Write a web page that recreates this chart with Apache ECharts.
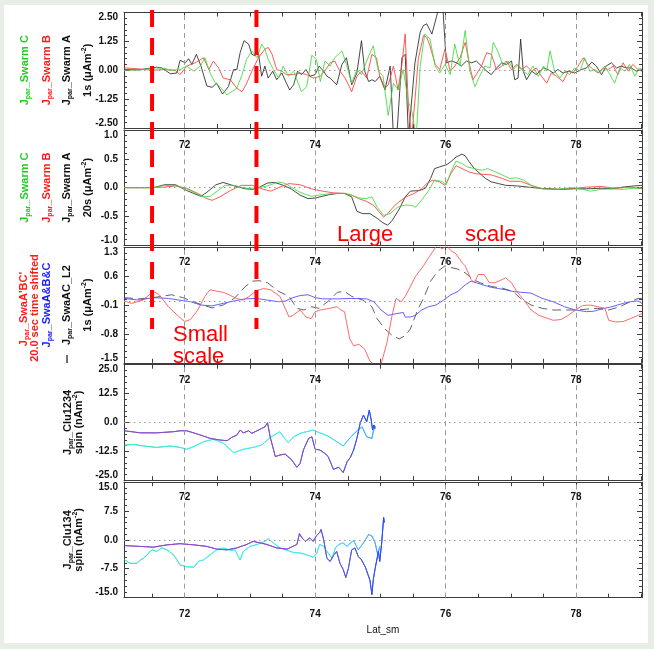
<!DOCTYPE html>
<html>
<head>
<meta charset="utf-8">
<script src="https://cdn.jsdelivr.net/npm/echarts@6/dist/echarts.min.js"></script>
<style>
  html, body { margin: 0; padding: 0; background: #e6eee6; }
  #sheet { position: absolute; left: 4px; top: 5px; width: 644px; height: 638px; background: #ffffff; }
  #chart { position: absolute; left: 0; top: 0; width: 654px; height: 649px; }
</style>
</head>
<body>
<div id="sheet"></div>
<div id="chart"></div>
<script>
// ---- magnetic latitude axis ----
const LAT_MIN = 71.07;
const LAT_MAX = 79.01;
const LAT_LABELS = [72, 74, 76, 78];
const LAT_TICKS = [71.5, 72, 72.5, 73, 73.5, 74, 74.5, 75, 75.5, 76, 76.5, 77, 77.5, 78, 78.5, 79];

// ---- vertical scales of the five panels ----
const Y_MIN = [-2.5, -1.0, -1.5, -25, -15];
const Y_MAX = [2.5, 1.0, 1.3, 25, 15];
const Y_STEP = [1.25, 0.5, 0.7, 12.5, 7.5];
const Y_DECIMALS = [2, 1, 1, 1, 1];

// ---- small / large scale boundaries (latitude) ----
const BOUNDARY_LATS = [71.5, 73.1];

// ---- panel 1: Swarm 1 s field-aligned currents (uA/m^2) ----
const SWARM_A_1S = [
  [71.07,0.03],[71.30,0.02],[71.57,0.13],[71.65,0.10],[71.78,-0.15],[71.88,-0.12],[71.93,0.43],[72.01,0.32],
  [72.06,0.50],[72.11,0.25],[72.18,0.69],[72.25,0.18],[72.34,-0.68],[72.42,-0.74],[72.49,-0.56],[72.58,-1.03],
  [72.67,-0.71],[72.75,0.03],[72.80,0.03],[72.85,0.76],[72.91,1.28],[72.98,1.13],[73.03,0.69],[73.08,0.62],
  [73.13,0.76],[73.18,-0.26],[73.23,0.18],[73.28,-0.34],[73.35,-0.04],[73.41,-0.41],[73.49,-0.12],[73.56,-0.56],
  [73.61,-0.85],[73.67,-0.63],[73.73,-0.04],[73.79,-0.19],[73.86,0.03],[73.92,-0.26],[74.00,-0.19],[74.06,0.18],
  [74.13,-0.04],[74.18,-0.26],[74.23,-0.34],[74.33,-0.63],[74.41,0.25],[74.48,0.54],[74.56,-0.63],[74.64,-0.12],
  [74.71,1.28],[74.76,-0.04],[74.82,-0.49],[74.87,-0.41],[74.92,-0.49],[74.99,-0.26],[75.07,-0.85],[75.15,0.18],
  [75.20,-2.9],[75.25,-2.9],[75.33,0.54],[75.38,0.69],[75.43,-2.9],[75.53,0.32],[75.61,1.65],[75.66,1.94],
  [75.71,2.01],[75.79,1.57],[75.86,2.31],[75.91,2.9],[75.96,2.6],[76.01,0.32],[76.09,0.40],[76.17,0.32],
  [76.24,0.18],[76.32,0.40],[76.40,0.32],[76.47,0.40],[76.55,0.18],[76.63,-0.04],[76.70,-0.19],[76.78,0.10],
  [76.86,0.32],[76.93,0.25],[77.01,0.40],[77.06,-0.41],[77.11,-0.34],[77.15,1.35],[77.19,-0.04],[77.24,-0.41],
  [77.32,-0.04],[77.39,-0.19],[77.50,0.10],[77.57,0.03],[77.65,-0.12],[77.72,0.03],[77.80,-0.12],[77.88,-0.04],
  [77.98,-0.12],[78.08,0.03],[78.16,0.10],[78.24,0.35],[78.31,0.18],[78.39,-0.19],[78.46,0.18],[78.54,0.32],
  [78.62,0.10],[78.69,0.18],[78.77,0.10],[78.85,0.10],[78.92,-0.04],[79.01,0.03]
];
const SWARM_B_1S = [
  [71.07,0.10],[71.20,0.08],[71.30,0.06],[71.50,0.0],[71.70,0.03],[71.85,0.0],[71.93,-0.19],[72.03,0.18],
  [72.16,0.32],[72.29,0.54],[72.37,0.03],[72.44,0.40],[72.52,0.10],[72.59,-0.34],[72.70,-0.41],[72.80,-0.78],
  [72.88,-0.93],[72.95,-0.56],[73.03,-0.04],[73.13,0.54],[73.23,0.91],[73.28,0.99],[73.34,0.69],[73.41,0.03],
  [73.49,-0.04],[73.56,-0.19],[73.67,-0.19],[73.77,-0.12],[73.87,-0.19],[73.97,-0.34],[74.08,-0.26],[74.18,0.10],
  [74.23,0.32],[74.30,0.40],[74.38,-0.04],[74.46,-0.34],[74.56,-0.93],[74.64,-0.26],[74.71,-0.04],[74.79,-0.34],
  [74.87,0.69],[74.94,0.54],[74.99,-0.26],[75.07,-0.78],[75.12,-0.63],[75.20,0.18],[75.27,-0.85],[75.33,0.25],
  [75.38,1.57],[75.43,-1.59],[75.48,-2.9],[75.53,-1.29],[75.58,0.47],[75.66,1.50],[75.71,1.43],[75.76,1.06],
  [75.84,0.25],[75.91,0.03],[75.99,0.91],[76.07,-0.04],[76.14,0.18],[76.22,0.54],[76.30,1.21],[76.37,0.18],
  [76.42,-0.41],[76.50,-0.04],[76.55,0.18],[76.63,0.76],[76.70,0.69],[76.78,0.03],[76.86,0.18],[76.93,0.40],
  [77.01,0.03],[77.09,0.25],[77.16,0.03],[77.24,0.18],[77.32,-0.04],[77.39,0.10],[77.47,-0.26],[77.55,-0.56],
  [77.62,-0.12],[77.70,-0.26],[77.80,-0.49],[77.88,-0.04],[77.95,-0.12],[78.03,0.18],[78.11,0.54],[78.18,0.25],
  [78.26,0.03],[78.34,-0.12],[78.41,0.10],[78.49,0.03],[78.57,0.18],[78.64,-0.19],[78.72,0.32],[78.80,-0.04],
  [78.87,0.25],[78.95,0.03],[79.01,-0.04]
];
const SWARM_C_1S = [
  [71.07,0.0],[71.30,0.01],[71.57,0.10],[71.70,0.08],[71.78,0.0],[71.93,0.03],[72.03,0.18],[72.14,-0.04],
  [72.24,0.18],[72.31,0.54],[72.39,-0.12],[72.47,-0.56],[72.54,-0.71],[72.65,-1.07],[72.72,-0.93],[72.80,-0.78],
  [72.88,-0.19],[72.95,0.47],[73.03,0.84],[73.11,0.54],[73.18,1.13],[73.23,0.91],[73.28,0.47],[73.36,0.03],
  [73.44,-0.34],[73.51,0.18],[73.59,-0.26],[73.67,-0.04],[73.74,-0.56],[73.79,-0.93],[73.87,-0.71],[73.95,0.65],
  [74.02,0.47],[74.08,-0.49],[74.15,0.40],[74.23,0.18],[74.30,0.54],[74.41,0.84],[74.48,0.25],[74.56,-0.56],
  [74.64,0.03],[74.71,-0.19],[74.79,0.40],[74.89,1.06],[74.97,-0.04],[75.04,-0.26],[75.12,-1.96],[75.20,-0.56],
  [75.27,-0.85],[75.35,0.03],[75.43,-1.37],[75.48,-1.74],[75.55,-2.9],[75.61,0.18],[75.68,1.57],[75.76,1.35],
  [75.84,0.18],[75.91,-0.12],[75.99,0.25],[76.07,-0.19],[76.14,1.13],[76.22,0.18],[76.30,1.72],[76.37,-0.04],
  [76.45,-0.71],[76.52,-0.26],[76.60,0.18],[76.68,0.10],[76.73,1.21],[76.81,0.76],[76.88,0.18],[76.96,0.40],
  [77.04,0.03],[77.11,0.25],[77.19,-0.04],[77.26,-0.19],[77.34,0.18],[77.42,-0.26],[77.50,0.18],[77.55,-0.04],
  [77.60,0.84],[77.67,-0.04],[77.75,-0.34],[77.83,-0.04],[77.90,-0.19],[77.98,0.10],[78.06,-0.04],[78.13,0.54],
  [78.21,-0.04],[78.29,0.03],[78.36,-0.12],[78.44,0.18],[78.52,-0.19],[78.59,-0.56],[78.67,0.10],[78.75,-0.04],
  [78.82,0.25],[78.90,-0.26],[78.97,0.10],[79.01,0.03]
];

// ---- panel 2: Swarm 20 s smoothed currents (uA/m^2) ----
const SWARM_A_20S = [
  [71.07,0],[71.52,0],[71.69,0.05],[71.86,0.05],[72.03,-0.05],[72.14,-0.10],[72.25,-0.15],[72.34,-0.08],
  [72.48,0.05],[72.59,0.09],[72.76,0.03],[72.93,-0.02],[73.04,-0.03],[73.15,0.01],[73.27,0.08],[73.38,0.09],
  [73.49,0.05],[73.63,-0.02],[73.77,-0.13],[73.89,-0.19],[74.00,-0.18],[74.11,-0.15],[74.22,-0.12],[74.34,-0.10],
  [74.45,-0.10],[74.56,-0.16],[74.64,-0.41],[74.73,-0.45],[74.84,-0.45],[74.95,-0.53],[75.04,-0.61],[75.11,-0.65],
  [75.18,-0.57],[75.29,-0.37],[75.38,-0.16],[75.46,-0.06],[75.60,-0.05],[75.69,-0.01],[75.77,0.16],[75.83,0.33],
  [75.91,0.36],[76.02,0.40],[76.08,0.45],[76.16,0.53],[76.25,0.58],[76.30,0.55],[76.36,0.45],[76.44,0.33],
  [76.53,0.24],[76.61,0.16],[76.70,0.10],[76.81,0.07],[76.92,0.04],[77.09,0.03],[77.26,0.01],[77.43,-0.01],
  [77.60,-0.02],[77.77,-0.03],[77.94,-0.02],[78.16,-0.02],[78.38,-0.01],[78.55,-0.02],[78.72,0.01],[78.89,0.03],
  [79.01,0.04]
];
const SWARM_B_20S = [
  [71.07,0],[71.52,0],[71.69,0.01],[71.86,0.03],[72.03,-0.01],[72.20,-0.10],[72.34,-0.19],[72.42,-0.22],
  [72.54,-0.16],[72.70,-0.05],[72.87,0.04],[73.04,0.04],[73.21,-0.03],[73.32,-0.06],[73.46,0.01],[73.60,0.07],
  [73.77,0.05],[73.94,-0.02],[74.11,-0.06],[74.28,-0.09],[74.45,-0.10],[74.56,-0.13],[74.67,-0.19],[74.79,-0.24],
  [74.90,-0.31],[74.98,-0.42],[75.05,-0.51],[75.12,-0.44],[75.21,-0.32],[75.29,-0.24],[75.41,-0.15],[75.52,-0.10],
  [75.63,-0.02],[75.71,0.07],[75.80,0.13],[75.91,0.10],[75.99,0.04],[76.08,0.24],[76.16,0.38],[76.25,0.33],
  [76.36,0.27],[76.47,0.24],[76.59,0.23],[76.70,0.22],[76.87,0.16],[76.98,0.11],[77.15,0.11],[77.31,0.04],
  [77.48,-0.02],[77.71,-0.03],[77.94,-0.02],[78.16,0.01],[78.38,0.02],[78.61,-0.01],[78.83,0.01],[79.01,-0.02]
];
const SWARM_C_20S = [
  [71.07,0],[71.52,0],[71.69,0.04],[71.86,0.03],[72.03,-0.02],[72.14,-0.08],[72.28,-0.16],[72.39,-0.15],
  [72.51,-0.05],[72.62,0.04],[72.76,0.04],[72.93,-0.01],[73.10,-0.01],[73.27,0.03],[73.44,0.10],[73.55,0.07],
  [73.66,-0.01],[73.77,-0.08],[73.94,-0.15],[74.11,-0.12],[74.28,-0.10],[74.45,-0.10],[74.56,-0.13],[74.67,-0.18],
  [74.79,-0.19],[74.87,-0.16],[74.95,-0.34],[75.05,-0.48],[75.15,-0.45],[75.26,-0.34],[75.38,-0.30],[75.49,-0.31],
  [75.54,-0.34],[75.63,-0.22],[75.74,-0.05],[75.83,0.13],[75.94,0.11],[76.01,0.05],[76.08,0.27],[76.16,0.46],
  [76.25,0.42],[76.33,0.36],[76.44,0.33],[76.56,0.30],[76.64,0.33],[76.75,0.28],[76.87,0.22],[76.98,0.16],
  [77.09,0.17],[77.20,0.13],[77.31,0.04],[77.48,-0.02],[77.71,-0.03],[77.94,0.0],[78.10,-0.03],[78.22,-0.06],
  [78.38,-0.03],[78.55,-0.02],[78.72,-0.03],[78.89,-0.01],[79.01,-0.01]
];

// ---- panel 3: multi-spacecraft estimates, 1 s (uA/m^2) ----
const SWA_ABC_SHIFTED = [
  [71.07,0.0],[71.19,-0.06],[71.36,0.02],[71.52,0.23],[71.61,0.15],[71.75,-0.14],[71.89,-0.35],[72.00,-0.50],
  [72.09,-0.45],[72.20,-0.22],[72.31,0.11],[72.39,0.27],[72.51,0.23],[72.59,0.21],[72.68,0.15],[72.79,0.06],
  [72.90,0.02],[72.99,0.11],[73.10,0.25],[73.21,0.30],[73.32,0.27],[73.46,0.11],[73.60,-0.39],[73.66,-0.35],
  [73.77,-0.22],[73.86,-0.39],[73.94,-0.43],[74.00,-0.26],[74.08,-0.22],[74.22,-0.18],[74.34,-0.14],[74.39,-0.22],
  [74.45,-0.26],[74.53,-0.92],[74.59,-1.09],[74.67,-1.05],[74.76,-1.17],[74.84,-1.46],[74.93,-1.58],[75.01,-1.54],
  [75.10,-1.01],[75.18,-0.35],[75.24,0.06],[75.32,-0.02],[75.38,0.11],[75.46,0.35],[75.54,0.60],[75.66,0.85],
  [75.74,1.05],[75.83,1.26],[75.88,1.38],[75.94,1.26],[76.02,1.34],[76.08,1.22],[76.16,1.14],[76.25,0.93],
  [76.30,0.85],[76.39,0.52],[76.44,0.44],[76.50,0.64],[76.59,0.64],[76.67,0.44],[76.75,0.44],[76.87,0.52],
  [76.92,0.56],[77.01,0.44],[77.09,0.23],[77.20,0.02],[77.31,-0.22],[77.43,-0.35],[77.54,-0.41],[77.65,-0.47],
  [77.77,-0.45],[77.88,-0.35],[77.99,-0.22],[78.10,-0.11],[78.22,-0.10],[78.33,-0.14],[78.44,-0.18],[78.50,-0.47],
  [78.61,-0.51],[78.72,-0.50],[78.83,-0.43],[78.95,-0.35],[79.01,-0.31]
];
const SWA_A_B_C = [
  [71.07,0.06],[71.30,0.02],[71.52,0.08],[71.75,0.06],[71.92,0.02],[72.09,-0.02],[72.25,-0.10],[72.42,-0.12],
  [72.59,-0.06],[72.76,0.0],[72.93,0.05],[73.10,0.06],[73.27,0.02],[73.44,-0.02],[73.55,0.0],[73.66,0.08],
  [73.77,0.13],[73.89,0.15],[74.00,0.08],[74.11,0.05],[74.34,0.05],[74.56,0.06],[74.79,0.05],[74.90,-0.02],
  [75.01,-0.22],[75.12,-0.35],[75.24,-0.31],[75.35,-0.28],[75.38,-0.39],[75.46,-0.39],[75.54,-0.35],[75.63,-0.22],
  [75.74,-0.14],[75.85,-0.10],[75.97,0.02],[76.08,0.15],[76.19,0.23],[76.30,0.39],[76.39,0.48],[76.47,0.44],
  [76.59,0.38],[76.70,0.33],[76.81,0.30],[76.92,0.27],[77.03,0.23],[77.15,0.21],[77.31,0.19],[77.48,0.06],
  [77.65,-0.02],[77.82,-0.14],[77.99,-0.22],[78.16,-0.26],[78.27,-0.25],[78.38,-0.20],[78.55,-0.14],[78.72,-0.06],
  [78.83,-0.02],[78.95,0.0],[79.01,-0.06]
];
const SWA_AC_L2 = [
  [71.07,0.08],[71.30,0.05],[71.52,0.08],[71.80,0.15],[71.97,0.08],[72.20,-0.06],[72.42,-0.17],[72.59,-0.10],
  [72.76,0.06],[72.93,0.35],[73.04,0.48],[73.15,0.49],[73.27,0.44],[73.44,0.23],[73.60,0.11],[73.72,-0.18],
  [73.83,-0.22],[73.94,-0.14],[74.06,-0.18],[74.22,0.02],[74.34,0.21],[74.45,0.23],[74.56,0.11],[74.73,0.02],
  [74.87,-0.14],[74.95,-0.43],[75.07,-0.68],[75.18,-0.84],[75.29,-0.92],[75.38,-0.84],[75.46,-0.68],[75.57,-0.22],
  [75.66,0.06],[75.77,0.48],[75.88,0.72],[75.99,0.85],[76.08,0.81],[76.19,0.77],[76.30,0.68],[76.42,0.52],
  [76.53,0.44],[76.70,0.35],[76.87,0.31],[77.03,0.23],[77.15,0.06],[77.31,-0.10],[77.48,-0.18],[77.65,-0.22],
  [77.82,-0.22],[77.99,-0.22],[78.16,-0.20],[78.33,-0.18],[78.50,-0.22],[78.67,-0.14],[78.83,-0.02],[78.95,0.06],
  [79.01,0.06]
];

// ---- panel 4: Cluster 1-2-3-4 curlometer, spin resolution (nA/m^2) ----
const CLU1234_A = [
  [71.08,-3.6],[71.32,-4.5],[71.57,-4.5],[71.83,-4.0],[71.93,-3.6],[72.03,-3.6],[72.16,-4.7],[72.29,-5.9],
  [72.39,-6.9],[72.54,-7.6],[72.65,-7.9],[72.72,-6.5],[72.80,-5.5],[72.85,-3.3],[72.90,-4.5],[72.98,-3.6],
  [73.03,-4.7],[73.11,-3.6],[73.18,-2.6],[73.23,-1.9],[73.27,-0.1],[73.31,-6.2],[73.39,-14.8],[73.46,-14.1],
  [73.54,-13.7],[73.64,-16.2],[73.72,-19.4],[73.77,-17.7],[73.82,-11.9],[73.90,-6.9],[73.95,-6.2],[74.00,-11.6],
  [74.07,-11.9],[74.15,-13.4],[74.20,-14.8],[74.28,-20.3],[74.36,-19.4],[74.43,-21.7],[74.49,-17.0],[74.54,-15.1],
  [74.59,-11.9],[74.64,-6.9],[74.69,-0.4],[74.74,3.2],[74.79,0.3],[74.83,5.3],[74.86,1.0],[74.88,-3.3],
  [74.90,-1.1],[74.92,-2.6]
];
const CLU1234_B = [
  [71.08,-9.8],[71.22,-9.5],[71.37,-10.2],[71.57,-10.8],[71.78,-10.2],[71.93,-10.8],[72.03,-11.6],[72.16,-10.2],
  [72.29,-8.3],[72.44,-7.3],[72.60,-9.1],[72.75,-13.1],[72.90,-11.6],[73.05,-10.8],[73.18,-9.8],[73.31,-6.5],
  [73.46,-4.0],[73.52,-6.5],[73.59,-8.8],[73.67,-6.2],[73.77,-4.7],[73.87,-4.0],[73.97,-3.3],[74.07,-4.5],
  [74.20,-5.9],[74.33,-8.3],[74.43,-10.2],[74.54,-6.5],[74.64,-3.6],[74.72,-1.9],[74.79,-6.2],[74.87,-6.9],
  [74.89,-4.0],[74.92,-1.6]
];

// ---- panel 5: Cluster 1-3-4 estimate, spin resolution (nA/m^2) ----
const CLU134_A = [
  [71.08,-1.5],[71.32,-1.7],[71.52,-1.9],[71.73,-1.3],[71.93,-1.0],[72.14,-1.3],[72.34,-1.7],[72.49,-2.4],
  [72.65,-2.6],[72.80,-2.1],[72.95,-1.2],[73.05,-0.4],[73.16,-0.8],[73.26,-1.2],[73.41,-2.1],[73.57,-2.4],
  [73.72,-1.2],[73.76,1.6],[73.80,0.5],[73.85,-0.4],[73.92,0.5],[73.97,-0.4],[74.02,1.1],[74.07,1.9],
  [74.09,2.7],[74.13,0.1],[74.18,-4.8],[74.23,-5.6],[74.28,-4.1],[74.33,-3.0],[74.38,-6.1],[74.43,-7.7],
  [74.47,-9.8],[74.51,-7.4],[74.56,-2.6],[74.61,-2.1],[74.66,-4.3],[74.71,-5.2],[74.77,-7.1],[74.80,-7.4],
  [74.84,-10.5],[74.87,-14.2],[74.89,-10.5],[74.92,-7.4],[74.95,-7.0],[74.97,-3.0],[74.99,-5.6],[75.02,-0.8],
  [75.05,5.8],[75.06,4.5]
];
const CLU134_B = [
  [71.08,-5.2],[71.16,-6.1],[71.27,-6.1],[71.32,-5.2],[71.37,-4.8],[71.42,-3.9],[71.50,-2.6],[71.57,-3.0],
  [71.65,-2.1],[71.73,-2.6],[71.83,-3.9],[71.93,-6.5],[72.03,-7.0],[72.14,-7.1],[72.21,-5.6],[72.29,-5.2],
  [72.39,-3.9],[72.49,-2.6],[72.60,-2.1],[72.70,-2.7],[72.77,-2.6],[72.85,-5.2],[72.90,-3.0],[73.00,-1.7],
  [73.11,-1.2],[73.23,-0.4],[73.28,0.3],[73.36,-0.8],[73.46,-2.1],[73.57,-2.7],[73.67,-3.3],[73.77,-3.4],
  [73.87,-3.9],[73.97,-4.5],[74.02,-3.6],[74.07,-1.2],[74.13,-1.7],[74.18,-3.0],[74.26,-4.8],[74.31,-2.1],
  [74.36,-1.2],[74.43,-0.8],[74.49,-1.7],[74.54,-0.8],[74.59,-0.2],[74.66,-2.6],[74.74,-0.8],[74.82,1.4],
  [74.87,1.0],[74.92,-0.8],[74.96,-3.9],[74.99,-1.7]
];

// ---- layout and styling ----
const FONT = 'Liberation Sans, Arial, Helvetica, sans-serif';
const AXIS_COLOR = '#3c3c3c';
const PANEL_TOP = 12.5, PANEL_PITCH = 117.4, PANEL_H = 115.5;
const GRID_LEFT = 124, GRID_RIGHT = 12;

const purpleFade = () => new echarts.graphic.LinearGradient(0, 0, 1, 0, [
  { offset: 0, color: '#8d4cc4' }, { offset: 0.65, color: '#7f4fcc' },
  { offset: 0.85, color: '#5a58e4' }, { offset: 1, color: '#1f4cff' }
]);
const cyanFade = () => new echarts.graphic.LinearGradient(0, 0, 1, 0, [
  { offset: 0, color: '#43e3bd' }, { offset: 0.35, color: '#44eeea' },
  { offset: 0.8, color: '#48e6f6' }, { offset: 1, color: '#4aa0ff' }
]);

const PANEL_SERIES = [
  [
    { data: SWARM_A_1S, color: 'rgba(40,40,40,0.85)' },
    { data: SWARM_B_1S, color: 'rgba(255,60,60,0.85)' },
    { data: SWARM_C_1S, color: 'rgba(60,220,60,0.85)' }
  ],
  [
    { data: SWARM_A_20S, color: 'rgba(40,40,40,0.85)' },
    { data: SWARM_B_20S, color: 'rgba(255,60,60,0.85)' },
    { data: SWARM_C_20S, color: 'rgba(60,220,60,0.85)' }
  ],
  [
    { data: SWA_AC_L2, color: 'rgba(70,70,70,0.85)', dash: [9, 5] },
    { data: SWA_A_B_C, color: 'rgba(70,70,255,0.85)' },
    { data: SWA_ABC_SHIFTED, color: 'rgba(255,80,80,0.85)' }
  ],
  [
    { data: CLU1234_B, color: cyanFade() },
    { data: CLU1234_A, color: purpleFade() }
  ],
  [
    { data: CLU134_B, color: cyanFade() },
    { data: CLU134_A, color: purpleFade() }
  ]
];

const grids = [], xAxes = [], yAxes = [], series = [];
const lineCol = { color: AXIS_COLOR, width: 1 };

for (let i = 0; i < 5; i++) {
  grids.push({ left: GRID_LEFT, right: GRID_RIGHT, top: PANEL_TOP + i * PANEL_PITCH, height: PANEL_H });

  const xCommon = {
    type: 'value', gridIndex: i, min: LAT_MIN, max: LAT_MAX,
    axisLine: { show: true, onZero: false, lineStyle: lineCol },
    axisTick: { show: true, inside: true, length: 4, customValues: LAT_TICKS, lineStyle: lineCol },
    splitLine: { show: false }
  };
  xAxes.push(Object.assign({}, xCommon, {
    position: 'bottom',
    axisLabel: {
      show: true, customValues: LAT_LABELS, margin: 12,
      fontSize: 10, fontWeight: 'bold', color: '#111', fontFamily: FONT,
      formatter: v => String(Math.round(v))
    },
    name: i === 4 ? 'Lat_sm' : '', nameLocation: 'middle', nameGap: 28,
    nameTextStyle: { fontSize: 10, color: '#111', fontFamily: FONT }
  }));
  xAxes.push(Object.assign({}, xCommon, { position: 'top', axisLabel: { show: false } }));

  const yCommon = {
    type: 'value', gridIndex: i, min: Y_MIN[i], max: Y_MAX[i], interval: Y_STEP[i],
    axisLine: { show: true, onZero: false, lineStyle: lineCol },
    axisTick: { show: true, inside: true, length: 5, lineStyle: lineCol },
    minorTick: { show: true, splitNumber: 5, length: 3, lineStyle: lineCol },
    splitLine: { show: false }
  };
  const dec = Y_DECIMALS[i];
  yAxes.push(Object.assign({}, yCommon, {
    position: 'left',
    axisLabel: {
      show: true, margin: 6, fontSize: 10, fontWeight: 'bold', color: '#111', fontFamily: FONT,
      formatter: v => (Math.abs(v) < 1e-9 ? 0 : v).toFixed(dec),
      verticalAlignMaxLabel: 'top', verticalAlignMinLabel: 'bottom'
    }
  }));
  yAxes.push(Object.assign({}, yCommon, { position: 'right', axisLabel: { show: false } }));

  // reference grid: dashed latitude lines and the dotted zero line
  series.push({
    type: 'line', xAxisIndex: 2 * i, yAxisIndex: 2 * i, data: [], silent: true, z: 1,
    markLine: {
      silent: true, symbol: ['none', 'none'], animation: false, label: { show: false },
      data: LAT_LABELS.map(l => ({ xAxis: l, lineStyle: { color: '#9a9a9a', width: 1, type: [5, 4] } }))
        .concat([{ yAxis: 0, lineStyle: { color: '#9a9a9a', width: 1, type: [1.5, 3.5] } }])
    }
  });

  PANEL_SERIES[i].forEach(s => {
    series.push({
      type: 'line', xAxisIndex: 2 * i, yAxisIndex: 2 * i, data: s.data,
      showSymbol: false, symbol: 'none', silent: true, clip: true, z: 3,
      lineStyle: { color: s.color, width: 1, type: s.dash || 'solid' },
      itemStyle: { color: '#000' }
    });
  });
}

const chart = echarts.init(document.getElementById('chart'), null, { renderer: 'canvas' });
chart.setOption({
  animation: false,
  backgroundColor: 'transparent',
  grid: grids, xAxis: xAxes, yAxis: yAxes, series: series
});

// ---- side titles, annotations and the two scale boundaries ----
const RICH = {
  m: { fontSize: 11, fontWeight: 'bold', fontFamily: FONT, lineHeight: 14 },
  s: { fontSize: 7, fontWeight: 'bold', fontFamily: FONT, lineHeight: 14, verticalAlign: 'bottom' },
  p: { fontSize: 7, fontWeight: 'bold', fontFamily: FONT, lineHeight: 14, verticalAlign: 'top' }
};
const jpar = rest => '{m|J}{s|par}{m|' + rest + '}';
const units = (pre, u) => '{m|' + pre + ' (' + u + '}{p|-2}{m|)}';

function sideText(x, y, text, color) {
  return {
    type: 'text', x: x, y: y, rotation: Math.PI / 2, z: 50,
    style: { text: text, rich: RICH, fill: color, align: 'center', verticalAlign: 'middle',
             font: 'bold 11px ' + FONT }
  };
}
function panelMid(i) { return PANEL_TOP + i * PANEL_PITCH + PANEL_H / 2; }

const graphics = [];
[0, 1].forEach(i => {
  const c = panelMid(i);
  graphics.push(sideText(25, c, jpar('_Swarm C'), '#22cc22'));
  graphics.push(sideText(47, c, jpar('_Swarm B'), '#ff1a1a'));
  graphics.push(sideText(67, c, jpar('_Swarm A'), '#111'));
  graphics.push(sideText(88, c, units(i === 0 ? '1s' : '20s', 'μAm'), '#111'));
});
{
  const c = panelMid(2);
  graphics.push(sideText(24, c + 4, jpar("_SwaA'BC'"), '#ff1a1a'));
  graphics.push(sideText(35, c + 3, '{m|20.0 sec time shifted}', '#ff1a1a'));
  graphics.push(sideText(47, c, jpar('_SwaA&B&C'), '#1a1aff'));
  graphics.push(sideText(67, c, jpar('_SwaAC_L2'), '#111'));
  graphics.push({ type: 'line', z: 50, shape: { x1: 67, y1: 355, x2: 67, y2: 363 },
                  style: { stroke: '#111', lineWidth: 1.2 } });
  graphics.push(sideText(88, c, units('1s', 'μAm'), '#111'));
}
graphics.push(sideText(68, panelMid(3), jpar('_Clu1234'), '#111'));
graphics.push(sideText(79, panelMid(3), units('spin', 'nAm'), '#111'));
graphics.push(sideText(68, panelMid(4), jpar('_Clu134'), '#111'));
graphics.push(sideText(79, panelMid(4), units('spin', 'nAm'), '#111'));

const noteStyle = t => ({ text: t, fill: '#ff0000', font: '22px ' + FONT, align: 'left', verticalAlign: 'middle' });
graphics.push({ type: 'text', x: 337, y: 235, z: 60, style: noteStyle('Large') });
graphics.push({ type: 'text', x: 465, y: 235, z: 60, style: noteStyle('scale') });
graphics.push({ type: 'text', x: 173, y: 335, z: 60, style: noteStyle('Small') });
graphics.push({ type: 'text', x: 173, y: 357, z: 60, style: noteStyle('scale') });

BOUNDARY_LATS.forEach(lat => {
  const px = chart.convertToPixel({ xAxisIndex: 0 }, lat);
  graphics.push({
    type: 'line', z: 70,
    shape: { x1: px, y1: 10, x2: px, y2: 329 },
    style: { stroke: '#ff0000', lineWidth: 4, lineDash: [17, 11] }
  });
});

chart.setOption({ graphic: { elements: graphics } });
</script>
</body>
</html>
